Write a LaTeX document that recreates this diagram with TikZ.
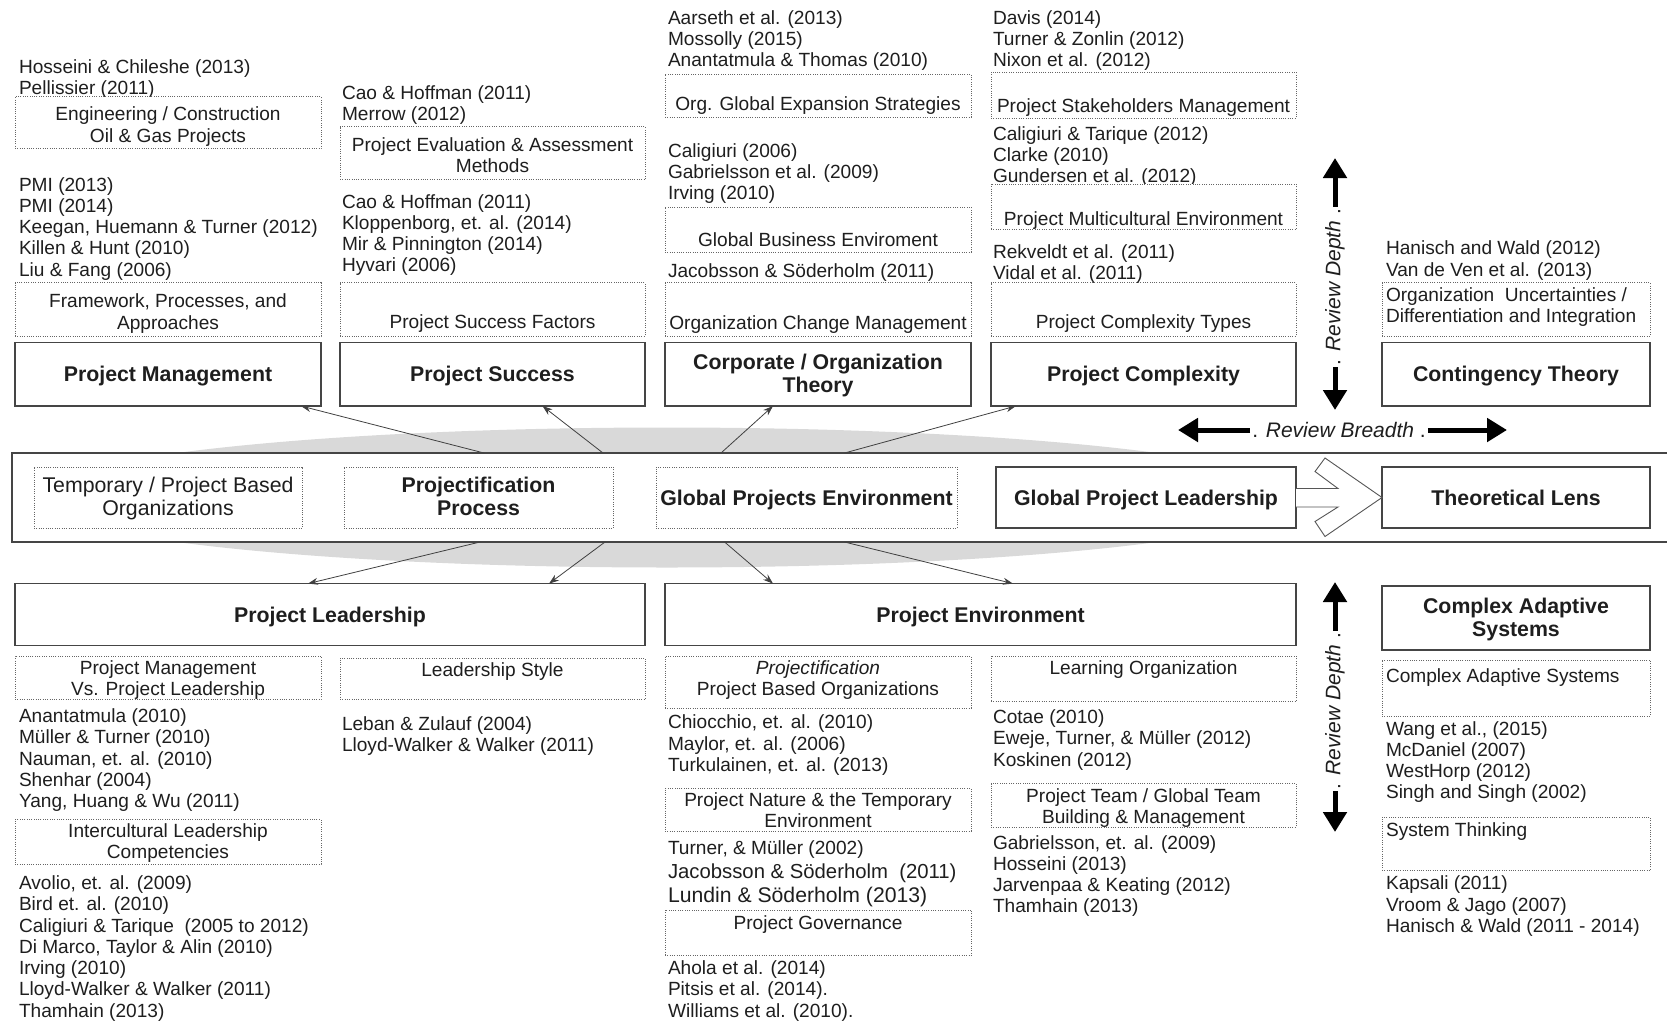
\documentclass[tikz,border=0pt]{standalone}
\usepackage{fontspec}
\setmainfont{Liberation Sans}
\usetikzlibrary{arrows.meta,calc}

\definecolor{ink}{HTML}{1E1E1E}
\definecolor{boxline}{HTML}{454545}
\definecolor{dotline}{HTML}{666666}
\definecolor{haze}{HTML}{D9D9D9}

\tikzset{
  bare/.style={inner sep=0pt, outer sep=0pt},
  solidbox/.style={bare, draw=boxline, line width=1.4pt, fill=white},
  dotbox/.style={bare, draw=dotline, line width=1pt, dash pattern=on 1pt off 1.3pt, fill=white},
  cite/.style={bare, anchor=base west, text=ink, font=\fontsize{19.1}{21.3}\selectfont},
  citec/.style={cite, anchor=base},
  head/.style={bare, anchor=base, text=ink, font=\fontsize{21.3}{23.4}\selectfont\bfseries},
  bandtxt/.style={bare, anchor=base, text=ink, font=\fontsize{21.3}{23.4}\selectfont},
  rev/.style={inner sep=2pt, text=ink, font=\fontsize{21}{23}\selectfont},
  link/.style={draw=ink!85, line width=0.8pt, -{Stealth[length=10pt,width=7pt]}},
  bigarrow/.style={draw=black, line width=5pt, -{Triangle[length=20pt,width=23pt]}},
}

% box between two corners (x1,y1) and (x2,y2), y growing downwards
\newcommand\placebox[6]{%
  \node[#2, minimum width={(#5-#3)*1pt}, minimum height={(#6-#4)*1pt}] (#1) at ({(#3+#5)/2},{(#4+#6)/2}) {};}
% stack of text lines: name, style, x, first baseline, line spacing, lines
\newcommand\textlines[6]{%
  \foreach \lineitem [count=\idx from 0] in {#6}{%
    \node[#2] (#1-\idx) at (#3,{#4+#5*\idx}) {\lineitem};}}

\begin{document}
\begin{tikzpicture}[x=1pt, y=-1pt]
\useasboundingbox (0,0) rectangle (1667,1023);

% ---------------- grey halo and central band ----------------
\fill[haze] (667,497.5) ellipse [x radius=635, y radius=70];
\placebox{band}{solidbox}{12}{453}{1680}{542}

\placebox{tpo}{dotbox}{34}{467}{302}{528}
\textlines{tpolbl}{bandtxt}{168}{492.4}{23.4}{Temporary / Project Based,Organizations}
\placebox{pp}{dotbox}{344}{467}{613}{528}
\textlines{pplbl}{head}{478.5}{492.4}{23.4}{Projectification,Process}
\placebox{gpe}{dotbox}{656}{467}{957}{528}
\node[head] (gpet) at (806.5,505) {Global Projects Environment};
\placebox{gpl}{solidbox}{996}{467}{1296}{528}
\node[head] (gplt) at (1146,505) {Global Project Leadership};
\placebox{tl}{solidbox}{1382}{467}{1650}{528}
\node[head] (tlt) at (1516,505) {Theoretical Lens};

% hollow block arrow towards the theoretical lens
\draw[draw=ink!75, line width=0.9pt, fill=white, line join=miter]
  ($(gpl.east)+(0,-9)$) -- ++(42,0) -- ++(-23,-17) -- ++(10,-13.5) -- (tl.west)
  -- ++(-57,39) -- ++(-10,-15) -- ++(23,-14.5) -- ($(gpl.east)+(0,9.5)$);

% ---------------- upper themes ----------------
% Project Management
\textlines{pmrefsA}{cite}{19}{73}{21.3}{Hosseini \& Chileshe (2013),Pellissier (2011)}
\placebox{engbox}{dotbox}{15}{96.7}{321}{148.8}
\textlines{englbl}{citec}{168}{120.8}{21.3}{Engineering / Construction,Oil \& Gas Projects}
\textlines{pmrefsB}{cite}{19}{191}{21.3}{PMI (2013),PMI (2014),{Keegan, Huemann \& Turner (2012)},Killen \& Hunt (2010),Liu \& Fang (2006)}
\placebox{fwbox}{dotbox}{15}{282.8}{321}{336}
\textlines{fwlbl}{citec}{168}{307.9}{21.3}{{Framework, Processes, and},Approaches}
\placebox{pm}{solidbox}{15}{342.3}{321}{406}
\node[head] (pmt) at (168,381.6) {Project Management};

% Project Success
\textlines{psrefsA}{cite}{342}{99.5}{21.3}{Cao \& Hoffman (2011),Merrow (2012)}
\placebox{evalbox}{dotbox}{340}{126.5}{645}{179.7}
\textlines{evallbl}{citec}{492.5}{151.6}{21.3}{Project Evaluation \& Assessment,Methods}
\textlines{psrefsB}{cite}{342}{208}{21.3}{Cao \& Hoffman (2011),{Kloppenborg, et. al. (2014)},Mir \& Pinnington (2014),Hyvari (2006)}
\placebox{psfbox}{dotbox}{340}{282.8}{645}{336}
\textlines{psflbl}{citec}{492.5}{328}{21.3}{Project Success Factors}
\placebox{ps}{solidbox}{340}{342.3}{645}{406}
\node[head] (pst) at (492.5,381.6) {Project Success};

% Corporate / Organization Theory
\textlines{cotrefsA}{cite}{668}{24}{21.3}{Aarseth et al. (2013),Mossolly (2015),Anantatmula \& Thomas (2010)}
\placebox{expbox}{dotbox}{665}{74.4}{971}{117}
\textlines{explbl}{citec}{818}{110}{21.3}{Org. Global Expansion Strategies}
\textlines{cotrefsB}{cite}{668}{157}{21.3}{Caligiuri (2006),Gabrielsson et al. (2009),Irving (2010)}
\placebox{gbebox}{dotbox}{665}{207.3}{971}{252}
\textlines{gbelbl}{citec}{818}{246}{21.3}{Global Business Enviroment}
\textlines{cotrefsC}{cite}{668}{277}{21.3}{Jacobsson \& Söderholm (2011)}
\placebox{ocmbox}{dotbox}{665}{282.8}{971}{336}
\textlines{ocmlbl}{citec}{818}{329}{21.3}{Organization Change Management}
\placebox{cot}{solidbox}{665}{342.3}{971}{406}
\textlines{cott}{head}{818}{369}{23.4}{Corporate / Organization,Theory}

% Project Complexity
\textlines{pcrefsA}{cite}{993}{24}{21.3}{Davis (2014),Turner \& Zonlin (2012),Nixon et al. (2012)}
\placebox{stkbox}{dotbox}{991}{72.3}{1296}{118}
\textlines{stklbl}{citec}{1143.5}{112}{21.3}{Project Stakeholders Management}
\textlines{pcrefsB}{cite}{993}{140}{21.3}{Caligiuri \& Tarique (2012),Clarke (2010),Gundersen et al. (2012)}
\placebox{mcbox}{dotbox}{991}{184}{1296}{229.6}
\textlines{mclbl}{citec}{1143.5}{225}{21.3}{Project Multicultural Environment}
\textlines{pcrefsC}{cite}{993}{258}{21.3}{Rekveldt et al. (2011),Vidal et al. (2011)}
\placebox{pctbox}{dotbox}{991}{282.8}{1296}{336}
\textlines{pctlbl}{citec}{1143.5}{328}{21.3}{Project Complexity Types}
\placebox{pc}{solidbox}{991}{342.3}{1296}{406}
\node[head] (pct) at (1143.5,381.6) {Project Complexity};

% Contingency Theory
\textlines{ctrefs}{cite}{1386}{254.7}{21.3}{Hanisch and Wald (2012),Van de Ven et al. (2013)}
\placebox{oubox}{dotbox}{1382}{282.8}{1650}{336}
\textlines{oulbl}{cite}{1386}{301.5}{21.3}{Organization\ \ Uncertainties /,Differentiation and Integration}
\placebox{ct}{solidbox}{1382}{342.3}{1650}{406}
\node[head] (ctt) at (1516,381.6) {Contingency Theory};

% ---------------- lower themes ----------------
\placebox{pl}{solidbox}{15}{583.6}{645}{645.3}
\node[head] (plt) at (330,622) {Project Leadership};
\placebox{pe}{solidbox}{665}{583.6}{1296}{645.3}
\node[head] (pet) at (980.5,622) {Project Environment};
\placebox{cas}{solidbox}{1382}{586}{1650}{650}
\textlines{cast}{head}{1516}{613.5}{23.4}{Complex Adaptive,Systems}

% Project Leadership, left column
\placebox{pmvbox}{dotbox}{15}{656}{321}{699.5}
\textlines{pmvlbl}{citec}{168}{674.6}{21.3}{Project Management,Vs. Project Leadership}
\textlines{plrefsA}{cite}{19}{722.5}{21.3}{Anantatmula (2010),Müller \& Turner (2010),{Nauman, et. al. (2010)},Shenhar (2004),{Yang, Huang \& Wu (2011)}}
\placebox{iclbox}{dotbox}{15}{819.7}{321}{864.3}
\textlines{icllbl}{citec}{168}{837.3}{21.3}{Intercultural Leadership,Competencies}
\textlines{plrefsB}{cite}{19}{889.4}{21.3}{{Avolio, et. al. (2009)},Bird et. al. (2010),Caligiuri \& Tarique\ \ (2005 to 2012),{Di Marco, Taylor \& Alin (2010)},Irving (2010),Lloyd-Walker \& Walker (2011),Thamhain (2013)}

% Project Leadership, right column
\placebox{lsbox}{dotbox}{340}{658}{645}{699.5}
\textlines{lslbl}{citec}{492.5}{676.8}{21.3}{Leadership Style}
\textlines{plrefsC}{cite}{342}{730}{21.3}{Leban \& Zulauf (2004),Lloyd-Walker \& Walker (2011)}

% Project Environment, left column
\placebox{pbobox}{dotbox}{665}{656}{971}{708}
\textlines{pbolbl}{citec}{818}{674.6}{21.3}{\textit{Projectification},Project Based Organizations}
\textlines{perefsA}{cite}{668}{728.8}{21.3}{{Chiocchio, et. al. (2010)},{Maylor, et. al. (2006)},{Turkulainen, et. al. (2013)}}
\placebox{pntbox}{dotbox}{665}{788.8}{971}{831.3}
\textlines{pntlbl}{citec}{818}{806.5}{21.3}{Project Nature \& the Temporary,Environment}
\node[cite] (perefsB-0) at (668,854) {Turner, \& Müller (2002)};
\node[cite, font=\fontsize{20.3}{22}\selectfont] (perefsB-1) at (668,878.5) {Jacobsson \& Söderholm\ \ (2011)};
\node[cite, font=\fontsize{21.2}{23}\selectfont] (perefsB-2) at (668,902) {Lundin \& Söderholm (2013)};
\placebox{govbox}{dotbox}{665}{910}{971}{955.7}
\textlines{govlbl}{citec}{818}{929.8}{21.3}{Project Governance}
\textlines{perefsC}{cite}{668}{974.4}{21.3}{Ahola et al. (2014),Pitsis et al. (2014).,Williams et al. (2010).}

% Project Environment, right column
\placebox{lobox}{dotbox}{991}{656}{1296}{701.6}
\textlines{lolbl}{citec}{1143.5}{674.6}{21.3}{Learning Organization}
\textlines{perefsD}{cite}{993}{723.5}{21.3}{Cotae (2010),{Eweje, Turner, \& Müller (2012)},Koskinen (2012)}
\placebox{ptbox}{dotbox}{991}{783.5}{1296}{827}
\textlines{ptlbl}{citec}{1143.5}{802.2}{21.3}{Project Team / Global Team,Building \& Management}
\textlines{perefsE}{cite}{993}{849}{21.3}{{Gabrielsson, et. al. (2009)},Hosseini (2013),Jarvenpaa \& Keating (2012),Thamhain (2013)}

% Complex Adaptive Systems column
\placebox{casbox}{dotbox}{1382}{660}{1650}{716}
\textlines{caslbl}{cite}{1386}{682}{21.3}{Complex Adaptive Systems}
\textlines{casrefs}{cite}{1386}{735}{21.3}{{Wang et al., (2015)},McDaniel (2007),WestHorp (2012),Singh and Singh (2002)}
\placebox{stbox}{dotbox}{1382}{817.3}{1650}{870.7}
\textlines{stlbl}{cite}{1386}{836.3}{21.3}{System Thinking}
\textlines{strefs}{cite}{1386}{889.7}{21.3}{Kapsali (2011),Vroom \& Jago (2007),Hanisch \& Wald (2011 - 2014)}

% ---------------- links from the band ----------------
\draw[link] ($(band.north west)+(472,0)$) -- ($(pm.south east)+(-20,0)$);
\draw[link] ($(band.north west)+(591,0)$) -- ($(ps.south)+(50,0)$);
\draw[link] ($(band.north west)+(709,0)$) -- ($(cot.south)+(-45,0)$);
\draw[link] ($(band.north west)+(832.5,0)$) -- ($(pc.south west)+(25,0)$);
\draw[link] ($(band.south west)+(468,0)$) -- ($(pl.north)+(-22,0)$);
\draw[link] ($(band.south west)+(593,0)$) -- ($(pl.north)+(219,0)$);
\draw[link] ($(band.south west)+(712.6,0)$) -- ($(pe.north west)+(108,0)$);
\draw[link] ($(band.south west)+(832.5,0)$) -- ($(pe.north)+(32.5,0)$);

% ---------------- review depth / breadth ----------------
\node[rev, rotate=90] (depthA) at (1335,287) {. \textit{Review Depth} .};
\coordinate (depthAup) at (1335,158);
\coordinate (depthAdown) at (1335,410);
\draw[bigarrow] (depthA.east) -- (depthAup);
\draw[bigarrow] (depthA.west) -- (depthAdown);

\node[rev] (breadth) at (1339,430) {. \textit{Review Breadth} .};
\coordinate (breadthL) at (1178,430);
\coordinate (breadthR) at (1507,430);
\draw[bigarrow] (breadth.west) -- (breadthL);
\draw[bigarrow] (breadth.east) -- (breadthR);

\node[rev, rotate=90] (depthB) at (1335,711) {. \textit{Review Depth} .};
\coordinate (depthBup) at (1335,582);
\coordinate (depthBdown) at (1335,832);
\draw[bigarrow] (depthB.east) -- (depthBup);
\draw[bigarrow] (depthB.west) -- (depthBdown);

\end{tikzpicture}
\end{document}
